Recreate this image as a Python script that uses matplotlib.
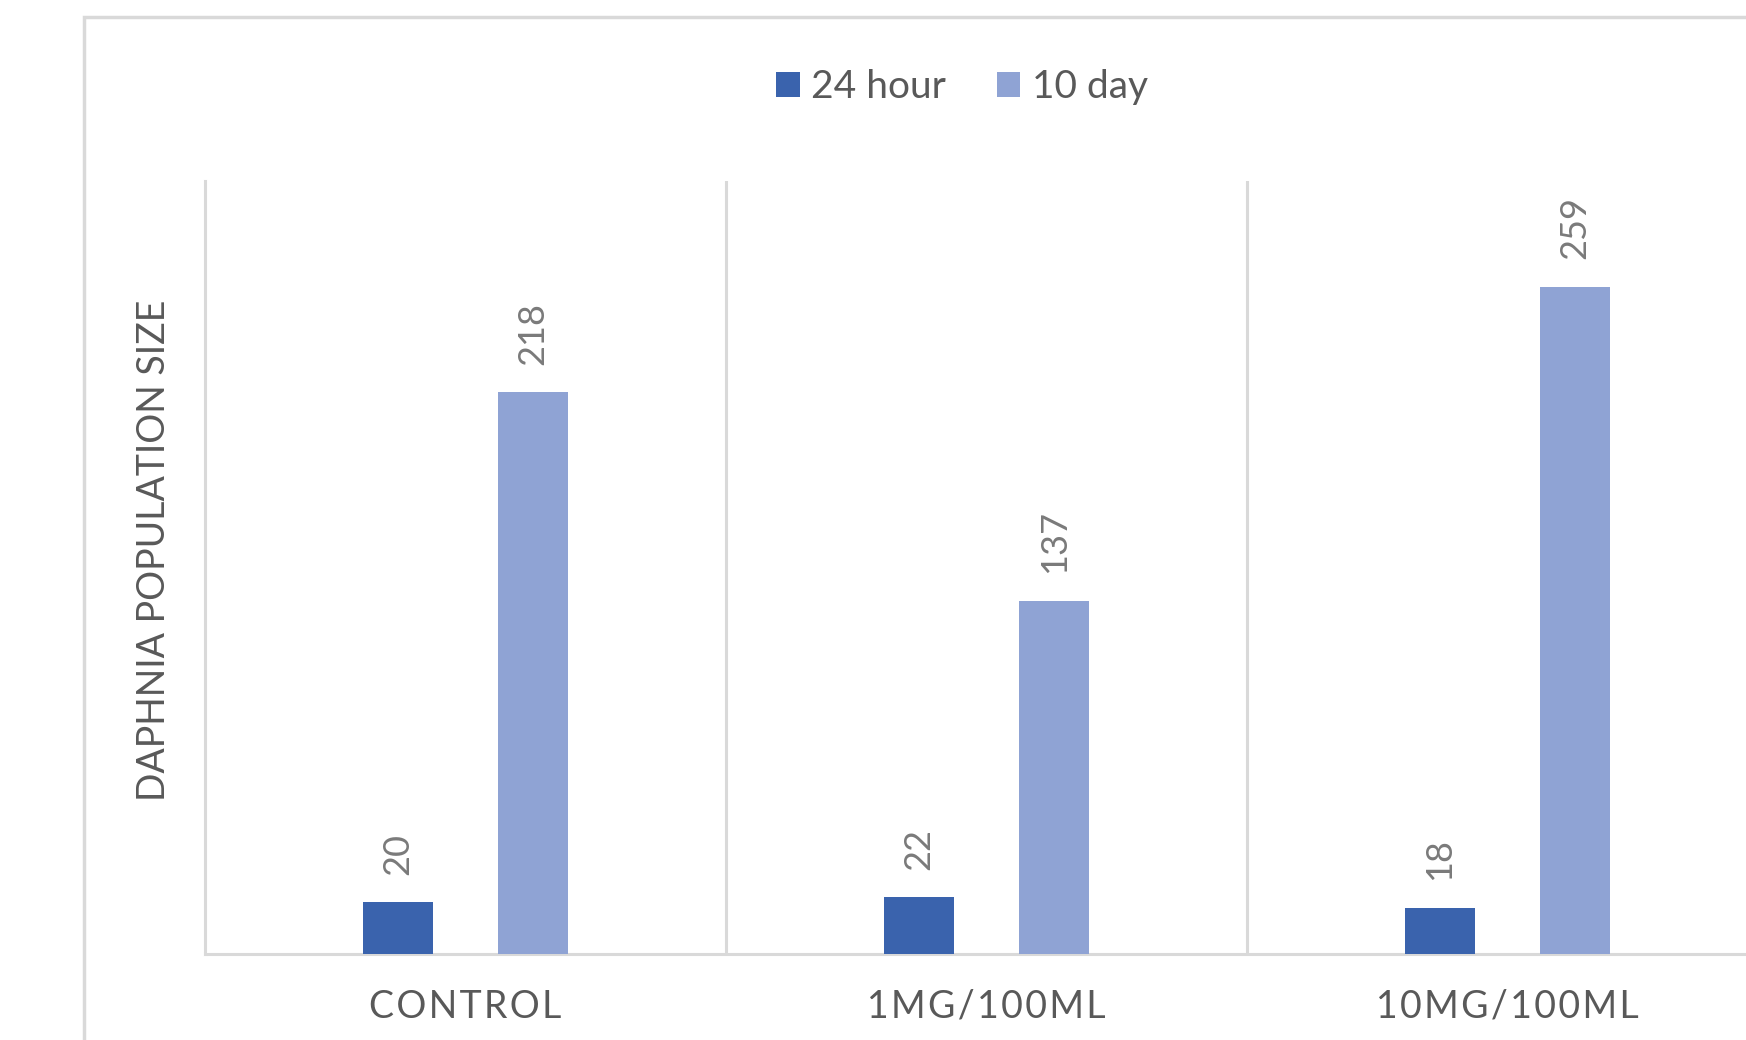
import numpy as np
import matplotlib.pyplot as plt
from matplotlib.patches import Rectangle

plt.rcParams['font.family'] = ['Lato', 'DejaVu Sans']

categories = ['CONTROL', '1MG/100ML', '10MG/100ML']
series_names = ['24 hour', '10 day']
hour24 = [20, 22, 18]
day10 = [218, 137, 259]

c_dark = '#3a63ad'
c_light = '#8fa3d4'
grid_c = '#d9d9d9'
txt_c = '#595959'

fig = plt.figure(figsize=(17.46, 10.40), dpi=100)
ax = fig.add_axes([205/1746, 86/1040, 1563/1746, 773/1040])

x = np.arange(len(categories))
w = 0.135
off = 0.13
b1 = ax.bar(x - off, hour24, w, color=c_dark, label=series_names[0], zorder=3)
b2 = ax.bar(x + off, day10, w, color=c_light, label=series_names[1], zorder=3)

for bars, vals in [(b1, hour24), (b2, day10)]:
    for r, v in zip(bars, vals):
        ax.annotate(str(v), (r.get_x() + r.get_width()/2, v), xytext=(0, 20),
                    textcoords='offset points', rotation=90, ha='center', va='bottom',
                    fontsize=26, color='#7a7a7a')

ax.set_xlim(-0.5, 2.5)
ax.set_ylim(0, 300)
ax.set_yticks([])
ax.set_xticks(x)
ax.set_xticklabels(['\u200a'.join(c) for c in categories], fontsize=27, color=txt_c)
ax.tick_params(axis='x', length=0, pad=25)
for xs in [0.5, 1.5]:
    ax.axvline(xs, color=grid_c, lw=2.2, zorder=1)
for s in ['top', 'right']:
    ax.spines[s].set_visible(False)
for s in ['left', 'bottom']:
    ax.spines[s].set_color(grid_c)
    ax.spines[s].set_linewidth(2.2)
ax.set_ylabel('DAPHNIA POPULATION SIZE', fontsize=27, color=txt_c)
ax.yaxis.set_label_coords(-0.021, 0.522)

fig.legend(loc='center', bbox_to_anchor=(0.551, 0.916), ncol=2, frameon=False,
           fontsize=28, labelcolor=txt_c, handlelength=0.6, handleheight=0.6,
           handletextpad=0.3, columnspacing=1.3)

# outer chart border (cropped on right and bottom)
fig.patches.append(Rectangle((84/1746, -0.2), 1.5, 1.2 - 17/1040, transform=fig.transFigure,
                             fill=False, edgecolor=grid_c, lw=2.5))

plt.savefig('out.png', dpi=100)
